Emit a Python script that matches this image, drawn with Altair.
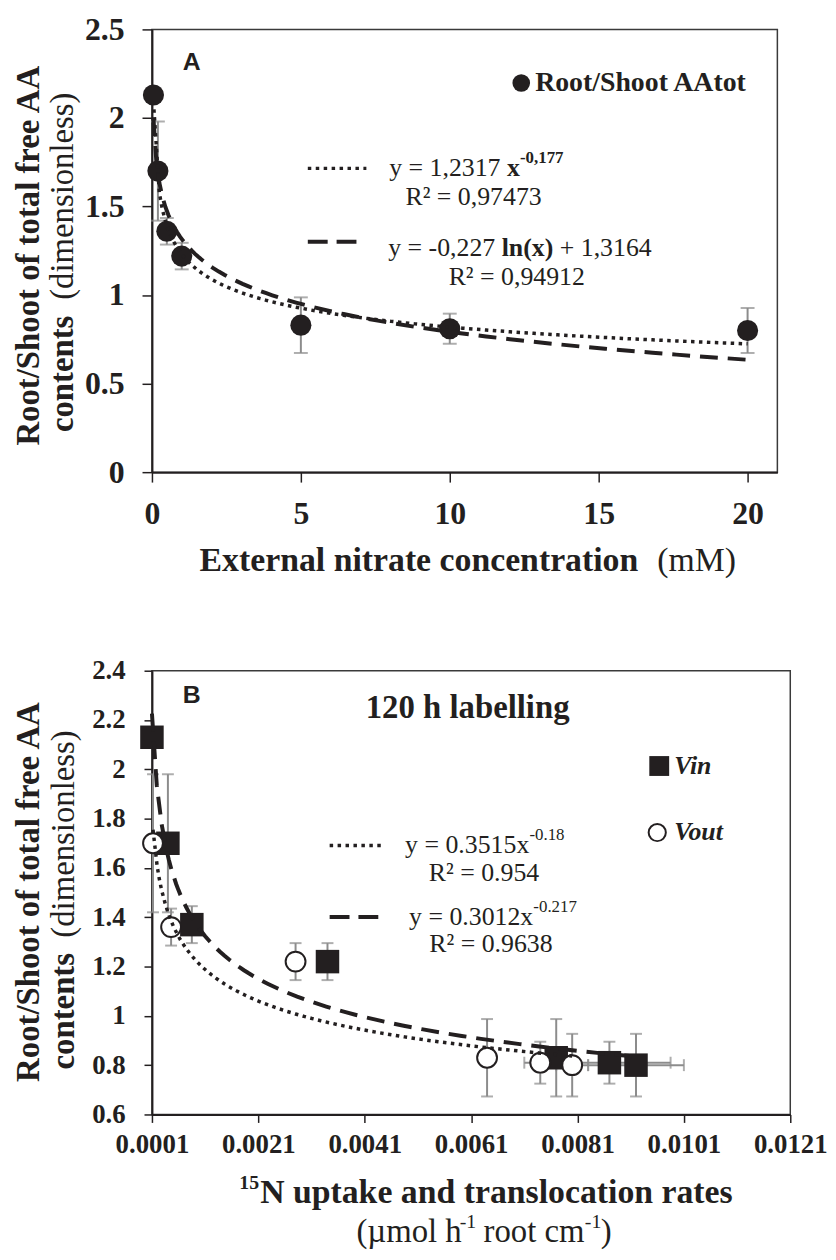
import altair as alt
import pandas as pd

# ---------------- data ----------------
conc_mM = [0.05, 0.2, 0.5, 1, 5, 10, 20]
ratio_A = [2.13, 1.70, 1.36, 1.22, 0.83, 0.81, 0.80]
err_A = [0.0, 0.28, 0.075, 0.075, 0.157, 0.085, 0.127]

vin_rate = [0.0001, 0.0004, 0.00085, 0.0034, 0.0077, 0.0087, 0.0092]
vin_ratio = [2.13, 1.70, 1.37, 1.22, 0.83, 0.81, 0.80]
vin_yerr = [0.0, 0.28, 0.075, 0.075, 0.157, 0.085, 0.127]
vin_xerr = [0.0, 0.0, 0.0, 0.0, 0.0, 0.00115, 0.0009]

vout_rate = [0.00012, 0.00046, 0.0028, 0.0064, 0.0074, 0.0080]
vout_ratio = [1.70, 1.36, 1.22, 0.83, 0.81, 0.80]
vout_yerr = [0.28, 0.075, 0.075, 0.157, 0.085, 0.127]
vout_xerr = [0.0, 0.0, 0.0, 0.0, 0.0003, 0.0003]

xticks_A = [0, 5, 10, 15, 20]
yticks_A = [0, 0.5, 1, 1.5, 2, 2.5]
xticks_B = [0.0001, 0.0021, 0.0041, 0.0061, 0.0081, 0.0101, 0.0121]
yticks_B = [0.6, 0.8, 1.0, 1.2, 1.4, 1.6, 1.8, 2.0, 2.2, 2.4]

legend_A = "Root/Shoot AAtot"
legend_B = ["Vin", "Vout"]
title_B = "120 h labelling"
eqA1 = ["y = 1,2317", "x", "-0,177", "R² = 0,97473"]
eqA2 = ["y = -0,227", "ln(x)", "+ 1,3164", "R² = 0,94912"]
eqB1 = ["y = 0.3515x", "-0.18", "R² = 0.954"]
eqB2 = ["y = 0.3012x", "-0.217", "R² = 0.9638"]
ytitle = ["Root/Shoot of total free AA", "contents", "(dimensionless)"]
xtitle_A = ["External nitrate concentration", "(mM)"]
xtitle_B = ["15", "N uptake and translocation rates", "(µmol h", "-1", "root cm", "-1", ")"]

# ---------------- style ----------------
SERIF = "Liberation Serif"
SANS = "Liberation Sans"
INK = "#231f20"
ERR = "#8c8c8c"

A_W, A_H = 630, 446
B_W, B_H = 643, 447

one = pd.DataFrame({"k": [0]})


def txt(s, x, y, size, weight="normal", style="normal", align="left",
        font=SERIF, angle=0):
    kw = dict(text=s, align=align, baseline="middle", font=font,
              fontSize=size, fontWeight=weight, fontStyle=style, color=INK)
    if angle:
        kw["angle"] = angle
    return alt.Chart(one).mark_text(**kw).encode(x=alt.value(x), y=alt.value(y))


def sample(x1, x2, y, dash, w):
    return alt.Chart(one).mark_rule(color=INK, strokeWidth=w, strokeDash=dash).encode(
        x=alt.value(x1), x2=alt.value(x2), y=alt.value(y))


def axis(values, fmt, size, tick, pad):
    return alt.Axis(values=values, format=fmt, title=None, grid=False,
                    domainColor=INK, domainWidth=2, tickColor=INK, tickWidth=1.5,
                    tickSize=tick, labelFont=SERIF, labelFontWeight="bold",
                    labelFontSize=size, labelColor=INK, labelPadding=pad,
                    labelFlush=False, labelOverlap=False, labelBound=False)


# ================= Panel A =================
dfA = pd.DataFrame({"conc": conc_mM, "ratio": ratio_A, "err": err_A})
scxA = alt.Scale(domain=[0, 21], nice=False, zero=False)
scyA = alt.Scale(domain=[0, 2.5], nice=False)
axxA = axis(xticks_A, "~g", 32, 10, 17)
axyA = axis(yticks_A, "~g", 32, 10, 18)


def XA(f):
    return alt.X(f, scale=scxA, axis=axxA)


def YA(f):
    return alt.Y(f, scale=scyA, axis=axyA)


baseA = alt.Chart(dfA).transform_filter("datum.err > 0").transform_calculate(
    lo="datum.ratio - datum.err", hi="datum.ratio + datum.err")
errA = baseA.mark_rule(color=ERR, strokeWidth=2).encode(
    x=XA("conc:Q"), y=YA("lo:Q"), y2="hi:Q")
capA = baseA.transform_fold(["lo", "hi"], as_=["w", "v"]).mark_tick(
    orient="horizontal", size=14, thickness=2, color=ERR).encode(
    x=XA("conc:Q"), y=YA("v:Q"))
ptsA = alt.Chart(dfA).mark_circle(size=452, color=INK, opacity=1).encode(
    x=XA("conc:Q"), y=YA("ratio:Q"))
powA = alt.Chart(dfA).transform_regression(
    "conc", "ratio", method="pow", extent=[0.05, 20]).mark_line(
    color=INK, strokeWidth=3.5, strokeDash=[3.5, 4.5]).encode(
    x=XA("conc:Q"), y=YA("ratio:Q"))
logA = alt.Chart(dfA).transform_regression(
    "conc", "ratio", method="log", extent=[0.05, 20]).mark_line(
    color=INK, strokeWidth=4, strokeDash=[18, 10]).encode(
    x=XA("conc:Q"), y=YA("ratio:Q"))

annA = [
    txt("A", 40, 33, 25, weight="bold", align="center", font=SANS),
    alt.Chart(one).mark_circle(size=314, color=INK, opacity=1).encode(
        x=alt.value(372), y=alt.value(54)),
    txt(legend_A, 386, 54, 28, weight="bold"),
    sample(157, 216, 140, [3.5, 4.5], 3.5),
    txt(eqA1[0], 239, 140, 26),
    txt(eqA1[1], 357.7, 140, 26, weight="bold"),
    txt(eqA1[2], 370.7, 130, 17, weight="bold"),
    txt(eqA1[3], 324, 169, 26, align="center"),
    sample(157, 207, 214, [20, 9], 4),
    txt(eqA2[0], 238, 220, 26),
    txt(eqA2[1], 352.3, 220, 26, weight="bold"),
    txt(eqA2[2], 410.8, 220, 26),
    txt(eqA2[3], 367.5, 249, 26, align="center"),
    txt(xtitle_A[0], 48, 536, 34, weight="bold"),
    txt(xtitle_A[1], 509, 536, 34),
    txt(ytitle[0], -124, 228, 33, weight="bold", align="center", angle=270),
    txt(ytitle[1], -90, 347, 33, weight="bold", align="center", angle=270),
    txt(ytitle[2], -90, 168, 33, align="center", angle=270),
]

chartA = alt.layer(errA, capA, ptsA, powA, logA, *annA).properties(
    width=A_W, height=A_H)

# ================= Panel B =================
dfVin = pd.DataFrame({"rate": vin_rate, "ratio": vin_ratio,
                      "yerr": vin_yerr, "xerr": vin_xerr})
dfVout = pd.DataFrame({"rate": vout_rate, "ratio": vout_ratio,
                       "yerr": vout_yerr, "xerr": vout_xerr})
scxB = alt.Scale(domain=[0.0001, 0.0121], nice=False, zero=False)
scyB = alt.Scale(domain=[0.6, 2.4], nice=False, zero=False)
axxB = axis(xticks_B, ".4f", 27, 8, 9)
axyB = axis(yticks_B, "~g", 27, 8, 19)


def XB(f):
    return alt.X(f, scale=scxB, axis=axxB)


def YB(f):
    return alt.Y(f, scale=scyB, axis=axyB)


def err_layers(df):
    vb = alt.Chart(df).transform_filter("datum.yerr > 0").transform_calculate(
        lo="datum.ratio - datum.yerr", hi="datum.ratio + datum.yerr")
    hb = alt.Chart(df).transform_filter("datum.xerr > 0").transform_calculate(
        xlo="datum.rate - datum.xerr", xhi="datum.rate + datum.xerr")
    return [
        vb.mark_rule(color=ERR, strokeWidth=2).encode(
            x=XB("rate:Q"), y=YB("lo:Q"), y2="hi:Q"),
        vb.transform_fold(["lo", "hi"], as_=["w", "v"]).mark_tick(
            orient="horizontal", size=12, thickness=2, color=ERR).encode(
            x=XB("rate:Q"), y=YB("v:Q")),
        hb.mark_rule(color=ERR, strokeWidth=2).encode(
            x=XB("xlo:Q"), x2="xhi:Q", y=YB("ratio:Q")),
        hb.transform_fold(["xlo", "xhi"], as_=["w", "v"]).mark_tick(
            orient="vertical", size=12, thickness=2, color=ERR).encode(
            x=XB("v:Q"), y=YB("ratio:Q")),
    ]


vinPts = alt.Chart(dfVin).mark_square(size=560, color=INK, opacity=1).encode(
    x=XB("rate:Q"), y=YB("ratio:Q"))
voutPts = alt.Chart(dfVout).mark_point(
    shape="circle", size=400, filled=True, fill="white", stroke=INK,
    strokeWidth=2, opacity=1).encode(x=XB("rate:Q"), y=YB("ratio:Q"))
powOut = alt.Chart(dfVout).transform_regression(
    "rate", "ratio", method="pow", extent=[vout_rate[0], vout_rate[-1]]).mark_line(
    color=INK, strokeWidth=3.5, strokeDash=[3.5, 4.5]).encode(
    x=XB("rate:Q"), y=YB("ratio:Q"))
powIn = alt.Chart(dfVin).transform_regression(
    "rate", "ratio", method="pow", extent=[vin_rate[0], vin_rate[-1]]).mark_line(
    color=INK, strokeWidth=4, strokeDash=[18, 10]).encode(
    x=XB("rate:Q"), y=YB("ratio:Q"))

annB = [
    txt("B", 40, 25, 25, weight="bold", align="center", font=SANS),
    txt(title_B, 318, 38, 33, weight="bold", align="center"),
    alt.Chart(one).mark_square(size=400, color=INK, opacity=1).encode(
        x=alt.value(511), y=alt.value(96)),
    txt(legend_B[0], 526, 96, 26, weight="bold", style="italic"),
    alt.Chart(one).mark_point(shape="circle", size=300, filled=True, fill="white",
                              stroke=INK, strokeWidth=2, opacity=1).encode(
        x=alt.value(509), y=alt.value(163)),
    txt(legend_B[1], 526, 163, 26, weight="bold", style="italic"),
    sample(179, 235, 176, [3.5, 4.5], 3.5),
    txt(eqB1[0], 255, 176, 26),
    txt(eqB1[1], 380.2, 166, 17),
    txt(eqB1[2], 334.5, 204, 26, align="center"),
    sample(179, 229, 248, [20, 9], 4),
    txt(eqB2[0], 259, 248, 26),
    txt(eqB2[1], 384.2, 238, 17),
    txt(eqB2[2], 341.5, 275, 26, align="center"),
    txt(xtitle_B[0], 88, 516, 20, weight="bold"),
    txt(xtitle_B[1], 109, 526, 34, weight="bold"),
    txt(xtitle_B[2], 206, 565, 33),
    txt(xtitle_B[3], 310, 555, 20),
    txt(xtitle_B[4], 334, 565, 33),
    txt(xtitle_B[5], 436, 555, 20),
    txt(xtitle_B[6], 452, 565, 33),
    txt(ytitle[0], -124, 223, 33, weight="bold", align="center", angle=270),
    txt(ytitle[1], -89, 343, 33, weight="bold", align="center", angle=270),
    txt(ytitle[2], -89, 164.5, 33, align="center", angle=270),
]

chartB = alt.layer(*err_layers(dfVin), *err_layers(dfVout), vinPts, voutPts,
                   powOut, powIn, *annB).properties(width=B_W, height=B_H)

chart = alt.vconcat(chartA, chartB, spacing=77).properties(
    padding={"left": 4, "top": 0, "right": 0, "bottom": 0}, background="white"
).configure_view(stroke="#3a3a3a", strokeWidth=1.5)

chart.save("out.html", embed_options={"renderer": "svg", "actions": False})
